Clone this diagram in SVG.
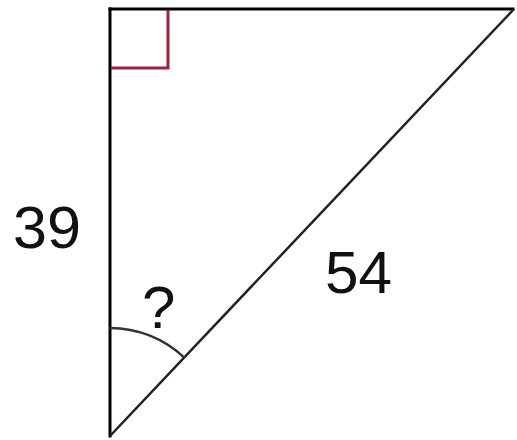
<svg xmlns="http://www.w3.org/2000/svg" width="517" height="440" viewBox="0 0 517 440">
<style>
.edge{fill:none;stroke:#000;stroke-width:3;stroke-linecap:square}
.hyp{fill:none;stroke:#222;stroke-width:2.5}
.mark{fill:none;stroke:#a31f3c;stroke-width:3}
.arc{fill:none;stroke:#333;stroke-width:2.5}
.lbl{font-family:"Liberation Sans",Arial,sans-serif;font-size:60px;fill:#111}
</style>
<rect width="517" height="440" fill="#fff"/>
<g id="connectors">
<line class="edge" x1="110" y1="9" x2="513" y2="9"/>
<line class="edge" x1="110" y1="9" x2="110" y2="436"/>
<line class="hyp" x1="110" y1="436" x2="514" y2="9"/>
</g>
<g id="right-angle">
<polyline class="mark" points="168,10 168,68 111,68"/>
</g>
<g id="angle-arc">
<path class="arc" d="M110,328 A108,108 0 0 1 184.2,357.6"/>
<text class="lbl" x="142" y="328">?</text>
</g>
<g id="label-39"><text class="lbl" x="13" y="248" textLength="68" lengthAdjust="spacingAndGlyphs">39</text></g>
<g id="label-54"><text class="lbl" x="325" y="293" textLength="67" lengthAdjust="spacingAndGlyphs">54</text></g>
</svg>
